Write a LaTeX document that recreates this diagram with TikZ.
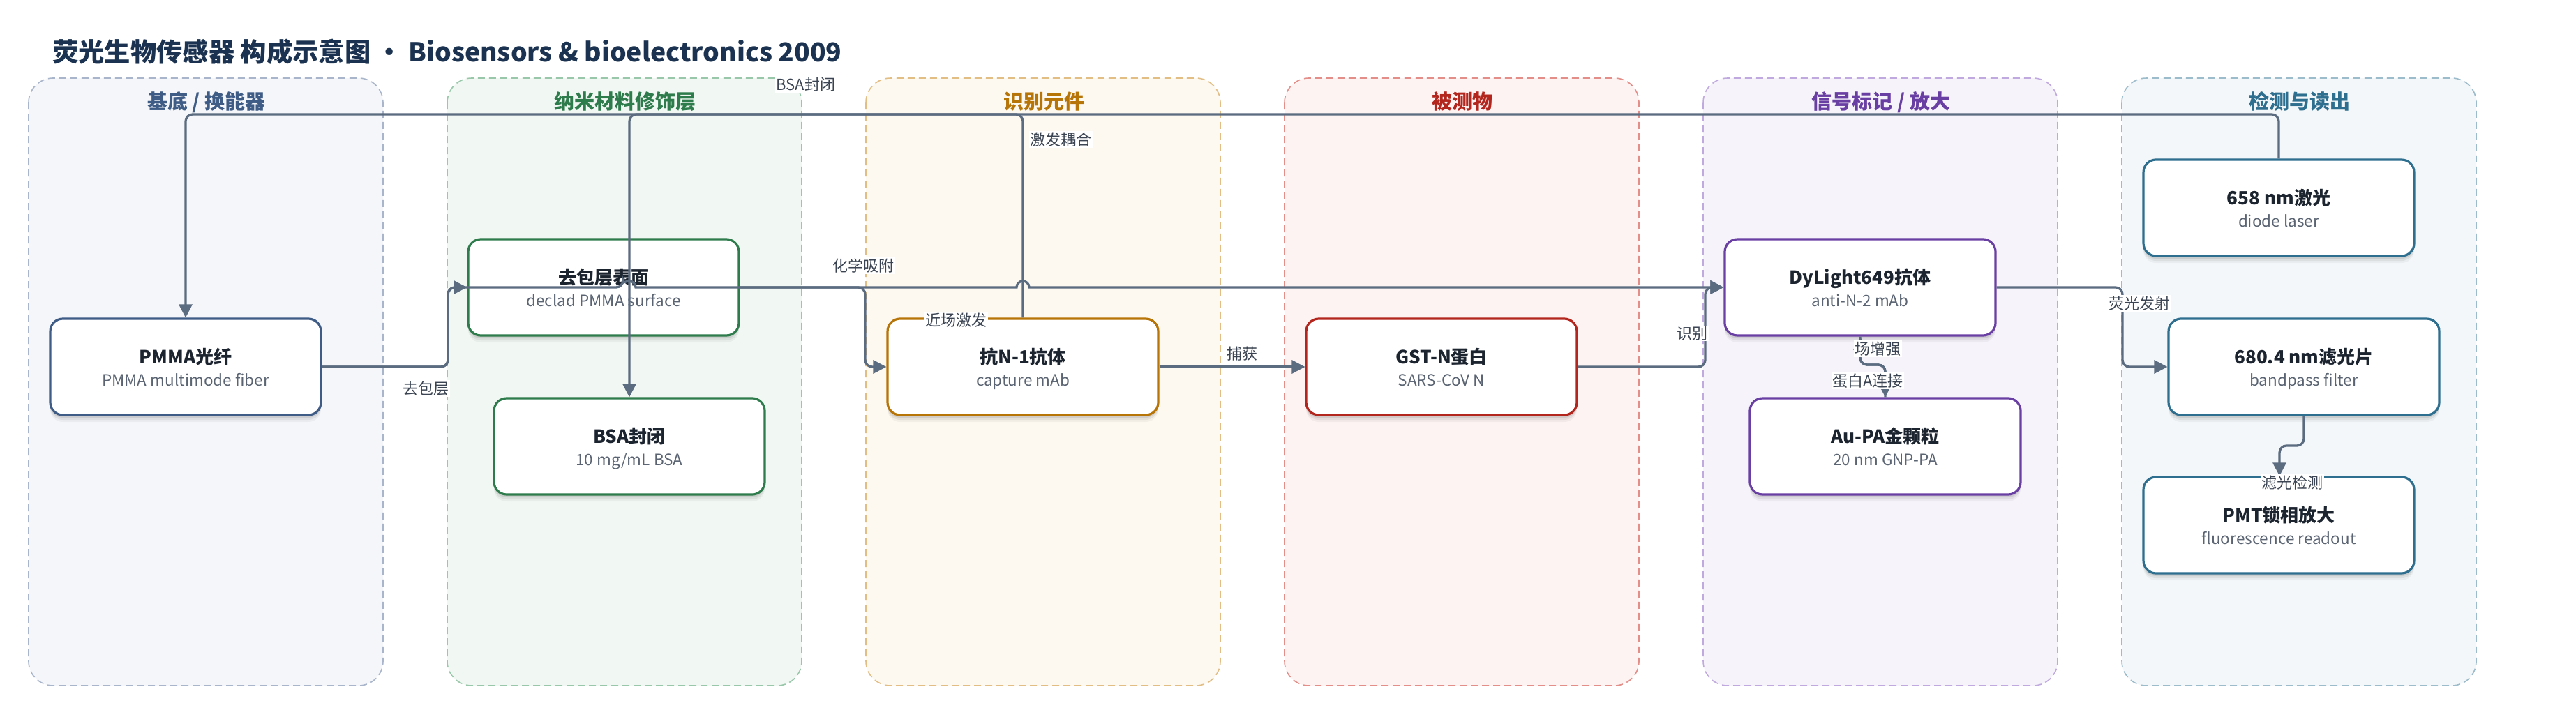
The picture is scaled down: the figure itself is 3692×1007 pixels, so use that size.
\documentclass[tikz,border=0pt]{standalone}
\usepackage{fontspec}
\setmainfont{Noto Sans CJK SC}
\usetikzlibrary{arrows.meta,shadows}
\definecolor{titlec}{HTML}{1B3350}
\definecolor{edgec}{HTML}{5B6B80}
\definecolor{labelc}{HTML}{3B4452}
\definecolor{ntc}{HTML}{1C2430}
\definecolor{nsc}{HTML}{5A6472}
\definecolor{cA}{HTML}{3F5C86}\definecolor{fA}{HTML}{F4F6FA}\definecolor{bA}{HTML}{A9B5CA}
\definecolor{cB}{HTML}{2E7B4B}\definecolor{fB}{HTML}{F1F8F3}\definecolor{bB}{HTML}{98C7A9}
\definecolor{cC}{HTML}{B77407}\definecolor{fC}{HTML}{FDF8F0}\definecolor{bC}{HTML}{E2BD84}
\definecolor{cD}{HTML}{B3261E}\definecolor{fD}{HTML}{FDF3F2}\definecolor{bD}{HTML}{E48E8A}
\definecolor{cE}{HTML}{6A3FA3}\definecolor{fE}{HTML}{F6F3FB}\definecolor{bE}{HTML}{C0A9DE}
\definecolor{cF}{HTML}{2E6E8E}\definecolor{fF}{HTML}{F3F7F9}\definecolor{bF}{HTML}{9CBCCB}
\tikzset{
  lanebox/.style={rounded corners=35pt, dash pattern=on 10pt off 6pt, line width=1.6pt},
  lanehead/.style={anchor=base, font=\fontsize{29pt}{34pt}\selectfont\bfseries},
  nodebox/.style={draw, line width=3.2pt, fill=white, rounded corners=18pt,
    minimum width=388pt, minimum height=138pt, inner sep=0pt,
    drop shadow={shadow xshift=0pt, shadow yshift=-10pt, opacity=0.04, fill=black},
    drop shadow={shadow xshift=0pt, shadow yshift=-7pt, opacity=0.06, fill=black},
    drop shadow={shadow xshift=0pt, shadow yshift=-4pt, opacity=0.08, fill=black}},
  ntitle/.style={anchor=base, inner sep=0pt, text=ntc, font=\fontsize{26pt}{30pt}\selectfont\bfseries},
  nsub/.style={anchor=base, inner sep=0pt, text=nsc, font=\fontsize{22.5pt}{26pt}\selectfont},
  conn/.style={draw=edgec, line width=3.3pt, rounded corners=10pt, -{Triangle[length=19pt,width=19pt]}},
  elabel/.style={fill=white, inner sep=1.5pt, text=labelc, font=\fontsize{22pt}{26pt}\selectfont}
}
\newcommand{\bionode}[6]{%
  \node[nodebox, draw=#4] (#1) at (#2,#3) {};
  \node[ntitle] (#1-t) at (#2,#3-5) {#5};
  \node[nsub] (#1-s) at (#2,#3+27.5) {#6};
}
\begin{document}
\begin{tikzpicture}[x=1pt,y=-1pt]
\useasboundingbox[fill=white] (0,0) rectangle (3692,1007);
% title
\node[anchor=base west, inner sep=0pt, text=titlec, font=\fontsize{37.3pt}{44pt}\selectfont\bfseries] (title) at (75,88)
  {荧光生物传感器 构成示意图 • Biosensors \& bioelectronics 2009};
% lanes
\draw[lanebox, fill=fA, draw=bA] (41,112) rectangle (549,983);
\draw[lanebox, fill=fB, draw=bB] (641,112) rectangle (1149,983);
\draw[lanebox, fill=fC, draw=bC] (1241,112) rectangle (1749,983);
\draw[lanebox, fill=fD, draw=bD] (1841,112) rectangle (2349,983);
\draw[lanebox, fill=fE, draw=bE] (2441,112) rectangle (2949,983);
\draw[lanebox, fill=fF, draw=bF] (3041,112) rectangle (3549,983);
\node[lanehead, text=cA] (h1) at (296,156) {基底 / 换能器};
\node[lanehead, text=cB] (h2) at (896,156) {纳米材料修饰层};
\node[lanehead, text=cC] (h3) at (1496,156) {识别元件};
\node[lanehead, text=cD] (h4) at (2096,156) {被测物};
\node[lanehead, text=cE] (h5) at (2696,156) {信号标记 / 放大};
\node[lanehead, text=cF] (h6) at (3296,156) {检测与读出};
% nodes
\bionode{pmma}{266}{526}{cA}{PMMA光纤}{PMMA multimode fiber}
\bionode{qbc}{865}{412}{cB}{去包层表面}{declad PMMA surface}
\bionode{bsa}{902}{640}{cB}{BSA封闭}{10 mg/mL BSA}
\bionode{anti}{1466}{526}{cC}{抗N-1抗体}{capture mAb}
\bionode{gst}{2066}{526}{cD}{GST-N蛋白}{SARS-CoV N}
\bionode{dy}{2666}{412}{cE}{DyLight649抗体}{anti-N-2 mAb}
\bionode{aupa}{2702}{640}{cE}{Au-PA金颗粒}{20 nm GNP-PA}
\bionode{laser}{3266}{298}{cF}{658 nm激光}{diode laser}
\bionode{filt}{3302}{526}{cF}{680.4 nm滤光片}{bandpass filter}
\bionode{pmt}{3266}{753}{cF}{PMT锁相放大}{fluorescence readout}
% connectors
\draw[conn] (laser.north) -- (3266,164) -- (266,164) -- (pmma.north);
\draw[conn] (anti.north) -- (1466,164) -- (902,164) -- (bsa.north);
\draw[conn] (pmma.east) -- (642,526) -- (642,412) -- (qbc.west);
\draw[conn] (pmma.east) -- (642,526) -- (642,412) -- (893,412) [sharp corners]
  arc[start angle=180, end angle=360, radius=9] -- (1457,412)
  arc[start angle=180, end angle=360, radius=9] -- (dy.west);
\draw[conn] (qbc.east) -- (1240,412) -- (1240,526) -- (anti.west);
\draw[conn] (anti.east) -- (gst.west);
\draw[conn] (gst.east) -- (2444,526) -- (2444,412) -- (dy.west);
\draw[conn] (dy.south) -- (2666,523) -- (2702,523) -- (aupa.north);
\draw[conn] (aupa.north) -- (2702,523) -- (2666,523) -- (dy.south);
\draw[conn] (dy.east) -- (3042,412) -- (3042,526) -- (filt.west);
\draw[conn] (filt.south) -- (3302,639) -- (3267,639) -- (3267,683) -- (pmt.north -| 3267,683);
% labels
\node[elabel] (l1) at (610,557) {去包层};
\node[elabel] (l2) at (1237,381) {化学吸附};
\node[elabel] (l3) at (1155,121) {BSA封闭};
\node[elabel] (l4) at (1520,200) {激发耦合};
\node[elabel] (l5) at (1370,459) {近场激发};
\node[elabel] (l6) at (1780,507) {捕获};
\node[elabel] (l7) at (2425,478) {识别};
\node[elabel] (l8) at (2691,500) {场增强};
\node[elabel] (l9) at (2677,546) {蛋白A连接};
\node[elabel] (l10) at (3066,435) {荧光发射};
\node[elabel] (l11) at (3285,692) {滤光检测};
\end{tikzpicture}
\end{document}
